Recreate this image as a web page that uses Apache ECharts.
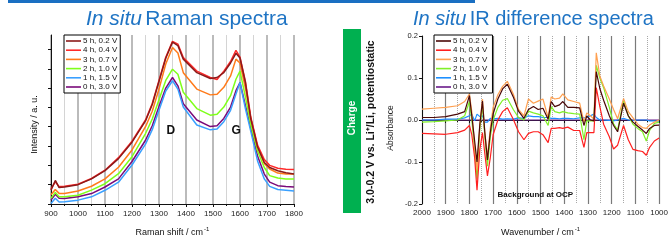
<!DOCTYPE html>
<html>
<head>
<meta charset="utf-8">
<script src="https://cdn.jsdelivr.net/npm/echarts@6/dist/echarts.min.js"></script>
<style>
  html, body { margin: 0; background: #fff; }
  #chart { width: 671px; height: 242px; }
</style>
</head>
<body>
<div id="chart"></div>
<script>
const FONT = '"Liberation Sans", Arial, sans-serif'
const TITLE_BLUE = '#1f74c4'

const LEGEND_NAMES = ['5 h, 0.2 V', '4 h, 0.4 V', '3 h, 0.7 V', '2 h, 1.0 V', '1 h, 1.5 V', '0 h, 3.0 V']

// Raman spectra (left)
const RAMAN_X = [900, 916, 930, 950, 1000, 1050, 1100, 1150, 1200, 1250, 1275, 1300, 1325, 1350, 1370, 1390, 1440, 1490, 1515, 1540, 1565, 1585, 1600, 1620, 1640, 1665, 1690, 1710, 1740, 1770, 1800]
const RAMAN_5H = [0.72, 1.22, 0.85, 0.88, 1.0, 1.3, 1.73, 2.35, 3.2, 4.3, 5.15, 6.35, 7.55, 8.38, 8.2, 7.5, 6.8, 6.5, 6.55, 6.8, 7.3, 7.8, 7.56, 6.29, 4.4, 2.95, 2.15, 1.89, 1.72, 1.62, 1.55]
const RAMAN_4H = [0.78, 1.15, 0.9, 0.92, 1.02, 1.32, 1.75, 2.4, 3.25, 4.35, 5.2, 6.4, 7.6, 8.42, 8.28, 7.58, 6.88, 6.55, 6.45, 6.88, 7.38, 7.95, 7.6, 6.35, 4.5, 3.05, 2.3, 2.0, 1.85, 1.8, 1.78]
const RAMAN_3H = [0.48, 0.75, 0.55, 0.54, 0.67, 0.92, 1.3, 1.9, 2.8, 4.0, 4.8, 5.95, 7.25, 8.1, 7.82, 6.8, 5.95, 5.65, 5.68, 6.04, 6.63, 7.5, 7.3, 6.0, 4.45, 2.95, 2.1, 1.81, 1.6, 1.55, 1.55]
const RAMAN_2H = [0.3, 0.6, 0.38, 0.37, 0.45, 0.72, 1.05, 1.57, 2.45, 3.65, 4.4, 5.4, 6.4, 6.98, 6.72, 5.79, 4.94, 4.6, 4.65, 5.02, 5.61, 6.46, 6.88, 5.55, 4.1, 2.74, 1.89, 1.47, 1.35, 1.3, 1.3]
const RAMAN_1H = [0.03, 0.3, 0.1, 0.12, 0.2, 0.37, 0.71, 1.13, 2.02, 3.1, 3.85, 4.85, 5.85, 6.38, 5.95, 5.02, 4.09, 3.84, 3.88, 4.26, 4.85, 5.7, 6.29, 4.94, 3.76, 2.23, 1.3, 0.91, 0.75, 0.71, 0.67]
const RAMAN_0H = [0.2, 0.5, 0.3, 0.28, 0.37, 0.54, 0.88, 1.3, 2.2, 3.3, 4.05, 5.05, 6.0, 6.55, 6.12, 5.19, 4.35, 4.01, 4.05, 4.43, 5.02, 5.87, 6.29, 5.11, 3.92, 2.49, 1.55, 1.13, 0.95, 0.91, 0.88]
const RAMAN_COLORS = ['#8b1a1a', '#ff2a2a', '#ff7a1a', '#7fff1a', '#3aa0ff', '#7a0a7a']
const INTENSITY_TICKS = [0, 1, 2, 3, 4, 5, 6, 7, 8]
const RAMAN_PEAKS = [{ name: 'D', coord: [1344, 3.8] }, { name: 'G', coord: [1586, 3.8] }]

// IR difference spectra (right)
const IR_X = [2000, 1950, 1900, 1850, 1820, 1800, 1790, 1778, 1768, 1756, 1745, 1735, 1724, 1712, 1700, 1680, 1660, 1640, 1615, 1593, 1570, 1551, 1530, 1510, 1490, 1468, 1455, 1440, 1420, 1406, 1385, 1360, 1335, 1317, 1305, 1290, 1275, 1265, 1250, 1234, 1210, 1192, 1175, 1150, 1130, 1110, 1090, 1070, 1054, 1040, 1020, 1000]
const IR_5H = [0.006, 0.006, 0.008, 0.014, 0.02, 0.058, 0.01, -0.05, -0.10, -0.01, 0.045, -0.03, -0.095, -0.03, 0.015, 0.05, 0.074, 0.085, 0.055, 0.021, 0.004, 0.025, 0.032, 0.025, 0.028, 0.002, 0.044, 0.032, 0.036, 0.044, 0.03, 0.03, 0.029, -0.013, 0.01, 0.0, -0.002, 0.115, 0.075, 0.047, 0.01, -0.013, -0.028, 0.04, 0.01, -0.005, -0.015, -0.024, -0.032, -0.02, -0.013, -0.012]
const IR_4H = [-0.032, -0.033, -0.034, -0.03, -0.024, -0.013, -0.035, -0.09, -0.167, -0.07, -0.03, -0.08, -0.133, -0.09, -0.035, 0.0, 0.02, 0.029, 0.002, -0.028, -0.047, -0.032, -0.028, -0.028, -0.035, -0.054, -0.02, -0.02, -0.018, -0.02, -0.017, -0.025, -0.025, -0.065, -0.03, -0.03, -0.03, 0.077, 0.032, -0.01, -0.04, -0.069, -0.06, -0.013, -0.047, -0.07, -0.073, -0.075, -0.084, -0.065, -0.05, -0.043]
const IR_3H = [0.026, 0.028, 0.03, 0.034, 0.044, 0.062, 0.02, -0.06, -0.12, -0.01, 0.05, -0.03, -0.088, -0.02, 0.03, 0.06, 0.08, 0.092, 0.062, 0.025, 0.01, 0.05, 0.04, 0.045, 0.05, 0.006, 0.055, 0.05, 0.052, 0.062, 0.048, 0.044, 0.04, -0.005, 0.017, 0.01, 0.002, 0.16, 0.105, 0.081, 0.05, 0.025, 0.003, 0.051, 0.02, 0.005, -0.01, -0.018, -0.02, -0.012, -0.005, 0.0]
const IR_2H = [-0.005, -0.004, -0.002, 0.0, 0.01, 0.044, 0.0, -0.07, -0.14, -0.02, 0.035, -0.04, -0.11, -0.04, 0.0, 0.03, 0.047, 0.051, 0.025, 0.006, 0.0, 0.021, 0.017, 0.014, 0.01, -0.013, 0.032, 0.02, 0.017, 0.02, 0.017, 0.015, 0.014, -0.047, -0.002, -0.002, -0.002, 0.13, 0.1, 0.077, 0.03, -0.009, -0.024, 0.047, 0.01, -0.01, -0.02, -0.028, -0.05, -0.025, -0.008, -0.005]
const IR_1H = [0.0, 0.0, 0.002, 0.002, 0.005, 0.01, 0.014, -0.002, 0.014, 0.008, 0.01, -0.005, -0.005, 0.004, 0.003, 0.004, 0.002, 0.003, 0.002, 0.005, 0.004, 0.01, 0.008, 0.008, 0.006, 0.006, 0.004, 0.004, 0.003, 0.004, 0.004, 0.003, 0.005, 0.005, 0.006, 0.01, 0.014, 0.006, 0.0, 0.0, -0.001, -0.002, 0.0, 0.004, 0.0, -0.001, 0.0, 0.0, 0.0, -0.002, -0.002, -0.003]
const IR_0H = [0, 0, 0, 0, 0, 0, 0, 0, 0, 0, 0, 0, 0, 0, 0, 0, 0, 0, 0, 0, 0, 0, 0, 0, 0, 0, 0, 0, 0, 0, 0, 0, 0, 0, 0, 0, 0, 0, 0, 0, 0, 0, 0, 0, 0, 0, 0, 0, 0, 0, 0, 0]
const IR_COLORS = ['#4a0808', '#ff2020', '#ffa050', '#80f028', '#1e90ff', '#6a1a8a']
const IR_NOTE = [{ name: 'Background at OCP', coord: [1522, -0.177] }]

const zip = (xs, ys) => xs.map((x, i) => [x, ys[i]])

// the two plots reuse the legend names, so the IR ones get a trailing space
const IR_NAMES = LEGEND_NAMES.map((n) => n + ' ')

const ramanSets = [RAMAN_5H, RAMAN_4H, RAMAN_3H, RAMAN_2H, RAMAN_1H, RAMAN_0H]
const irSets = [IR_5H, IR_4H, IR_3H, IR_2H, IR_1H, IR_0H]

const lineSeries = (name, color, data, idx, width) => ({
  type: 'line',
  name,
  xAxisIndex: idx,
  yAxisIndex: idx,
  data,
  symbol: 'none',
  silent: true,
  lineStyle: { color, width },
  itemStyle: { color },
})

const noteMark = (data, fontSize) => ({
  symbol: 'circle',
  symbolSize: 1,
  silent: true,
  itemStyle: { color: 'rgba(0,0,0,0)' },
  label: {
    show: true,
    position: 'inside',
    formatter: '{b}',
    fontFamily: FONT,
    fontWeight: 'bold',
    fontSize,
    color: '#111',
  },
  data,
})

const series = []
for (let i = 5; i >= 0; i--) {
  const s = lineSeries(LEGEND_NAMES[i], RAMAN_COLORS[i], zip(RAMAN_X, ramanSets[i]), 0, 1.5)
  if (i === 0) s.markPoint = noteMark(RAMAN_PEAKS, 12)
  series.push(s)
}
for (let i = 5; i >= 0; i--) {
  const s = lineSeries(IR_NAMES[i], IR_COLORS[i], zip(IR_X, irSets[i]), 1, 1.2)
  if (i === 0) s.markPoint = noteMark(IR_NOTE, 8)
  series.push(s)
}

const axisName = {
  fontFamily: FONT,
  color: '#111',
  rich: {
    m: { fontFamily: FONT, fontSize: 9, color: '#111' },
    s: { fontFamily: FONT, fontSize: 6, color: '#111', verticalAlign: 'top', padding: [0, 0, 7, 1] },
  },
}

const legendBox = (left, top, names) => ({
  orient: 'vertical',
  left,
  top,
  data: names,
  selectedMode: false,
  icon: 'rect',
  itemWidth: 15,
  itemHeight: 1.6,
  itemGap: 1.2,
  padding: [2, 3, 2, 2],
  borderColor: '#000',
  borderWidth: 1,
  backgroundColor: '#fff',
  textStyle: { fontFamily: FONT, fontSize: 8, color: '#111', lineHeight: 8, padding: [0, 0, 0, -3] },
})

const plainLabel = { fontFamily: FONT, fontSize: 8, color: '#222', formatter: (v) => String(v) }

const option = {
  animation: false,
  backgroundColor: '#fff',
  grid: [
    { left: 51, top: 35, width: 243, height: 176 },
    { left: 422, top: 36, width: 241, height: 177 },
  ],
  xAxis: [
    {
      type: 'value',
      gridIndex: 0,
      min: 900,
      max: 1800,
      interval: 100,
      name: '{m|Raman shift / cm}{s|-1}',
      nameLocation: 'middle',
      nameGap: 22,
      nameTextStyle: axisName,
      axisLine: { lineStyle: { color: '#111', width: 1 } },
      axisTick: { length: 3, lineStyle: { color: '#111' } },
      minorTick: { show: true, splitNumber: 2, length: 2, lineStyle: { color: '#111' } },
      axisLabel: { ...plainLabel, margin: 6 },
      splitLine: { show: true, lineStyle: { color: '#b4b4b4', width: 1.8 } },
      minorSplitLine: { show: true, lineStyle: { color: '#d4d4d4', width: 1 } },
    },
    {
      type: 'value',
      gridIndex: 1,
      min: 1000,
      max: 2000,
      interval: 100,
      inverse: true,
      name: '{m|Wavenumber / cm}{s|-1}',
      nameLocation: 'middle',
      nameGap: 22,
      nameTextStyle: axisName,
      axisLine: { lineStyle: { color: '#111', width: 1 } },
      axisTick: { length: 3, lineStyle: { color: '#111' } },
      minorTick: { show: true, splitNumber: 2, length: 2, lineStyle: { color: '#111' } },
      axisLabel: { ...plainLabel, margin: 5 },
      splitLine: { show: true, lineStyle: { color: '#7a7a7a', width: 1.2 } },
      minorSplitLine: { show: true, lineStyle: { color: '#a8a8a8', width: 1, type: 'dotted' } },
    },
  ],
  yAxis: [
    {
      type: 'value',
      gridIndex: 0,
      min: 0,
      max: 8.75,
      name: 'Intensity / a. u.',
      nameLocation: 'middle',
      nameGap: 12,
      nameTextStyle: { fontFamily: FONT, fontSize: 9, color: '#111', padding: [0, 10, 0, 0] },
      axisLine: { show: true, lineStyle: { color: '#111', width: 1 } },
      axisTick: { show: true, length: 3, customValues: INTENSITY_TICKS, lineStyle: { color: '#111' } },
      axisLabel: { show: false },
      splitLine: { show: false },
    },
    {
      type: 'value',
      gridIndex: 1,
      min: -0.2,
      max: 0.2,
      interval: 0.1,
      name: 'Absorbance',
      nameLocation: 'middle',
      nameGap: 27,
      nameTextStyle: { fontFamily: FONT, fontSize: 8.5, color: '#222', padding: [0, 16, 0, 0] },
      axisLine: { show: true, lineStyle: { color: '#111', width: 1 } },
      axisTick: { show: true, length: 3, lineStyle: { color: '#111' } },
      axisLabel: {
        fontFamily: FONT,
        fontSize: 7.5,
        color: '#222',
        margin: 4,
        formatter: (v) => v.toFixed(1),
      },
      splitLine: { show: false },
    },
  ],
  legend: [legendBox(64, 35, LEGEND_NAMES), legendBox(434, 35, IR_NAMES)],
  graphic: [
    { type: 'rect', shape: { x: 8, y: 0, width: 467, height: 3 }, style: { fill: '#1a6fc2' } },
    {
      type: 'text',
      x: 86,
      y: 19,
      style: {
        text: '{i|In situ} {n|Raman spectra}',
        verticalAlign: 'middle',
        rich: {
          i: { fontFamily: FONT, fontSize: 21, fontStyle: 'italic', fill: TITLE_BLUE },
          n: { fontFamily: FONT, fontSize: 21, fill: TITLE_BLUE },
        },
      },
    },
    {
      type: 'text',
      x: 413,
      y: 19,
      style: {
        text: '{i|In situ} {n|IR difference spectra}',
        verticalAlign: 'middle',
        rich: {
          i: { fontFamily: FONT, fontSize: 20, fontStyle: 'italic', fill: TITLE_BLUE },
          n: { fontFamily: FONT, fontSize: 20, fill: TITLE_BLUE },
        },
      },
    },
    { type: 'rect', shape: { x: 343, y: 29, width: 18, height: 184 }, style: { fill: '#00b050' } },
    {
      type: 'text',
      x: 352,
      y: 118,
      rotation: Math.PI / 2,
      style: {
        text: 'Charge',
        align: 'center',
        verticalAlign: 'middle',
        fontFamily: FONT,
        fontWeight: 'bold',
        fontSize: 10,
        fill: '#fff',
      },
    },
    {
      type: 'text',
      x: 371,
      y: 122,
      rotation: Math.PI / 2,
      style: {
        text: '3.0-0.2 V vs. Li⁺/Li, potentiostatic',
        align: 'center',
        verticalAlign: 'middle',
        fontFamily: FONT,
        fontWeight: 'bold',
        fontSize: 10.5,
        fill: '#111',
      },
    },
  ],
  series,
}

const chart = echarts.init(document.getElementById('chart'), null, { renderer: 'canvas' })
chart.setOption(option)
window.addEventListener('resize', () => chart.resize())
</script>
</body>
</html>
